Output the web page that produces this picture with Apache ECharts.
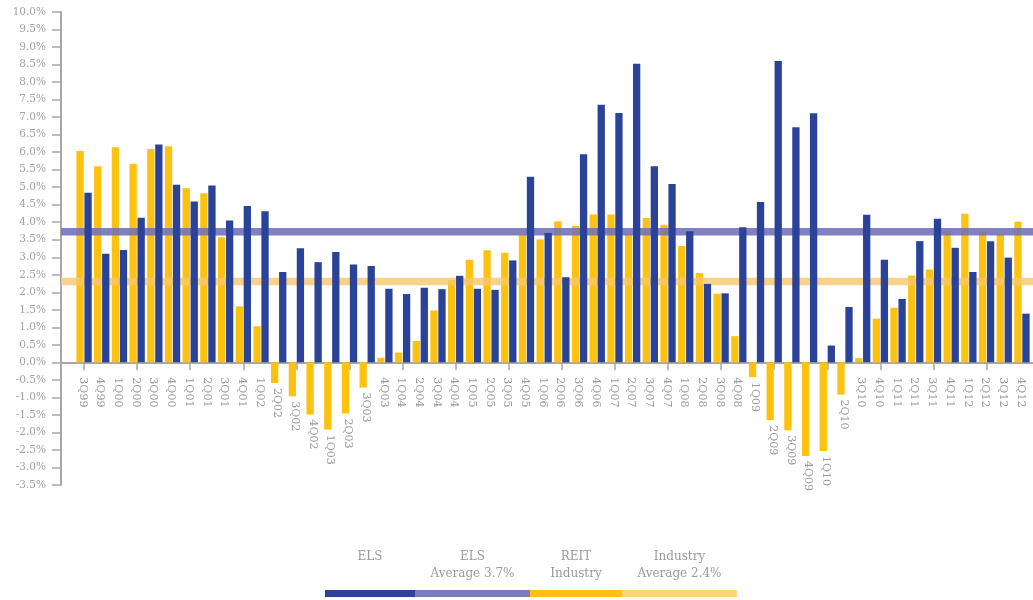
<!DOCTYPE html>
<html>
<head>
<meta charset="utf-8">
<script src="https://cdn.jsdelivr.net/npm/echarts@6/dist/echarts.min.js"></script>
<style>html,body{margin:0;padding:0;background:#fff}#c{width:1033px;height:600px}</style>
</head>
<body>
<div id="c"></div>
<script>
const categories = ['3Q99','4Q99','1Q00','2Q00','3Q00','4Q00','1Q01','2Q01','3Q01','4Q01','1Q02','2Q02','3Q02','4Q02','1Q03','2Q03','3Q03','4Q03','1Q04','2Q04','3Q04','4Q04','1Q05','2Q05','3Q05','4Q05','1Q06','2Q06','3Q06','4Q06','1Q07','2Q07','3Q07','4Q07','1Q08','2Q08','3Q08','4Q08','1Q09','2Q09','3Q09','4Q09','1Q10','2Q10','3Q10','4Q10','1Q11','2Q11','3Q11','4Q11','1Q12','2Q12','3Q12','4Q12'];
const reitIndustry = [6.03,5.6,6.14,5.67,6.09,6.17,4.97,4.83,3.57,1.6,1.03,-0.59,-0.97,-1.49,-1.92,-1.46,-0.72,0.13,0.28,0.61,1.48,2.36,2.93,3.2,3.13,3.64,3.51,4.02,3.89,4.22,4.22,3.68,4.12,3.93,3.32,2.55,1.96,0.75,-0.42,-1.65,-1.94,-2.67,-2.53,-0.92,0.12,1.25,1.56,2.48,2.65,3.74,4.24,3.73,3.67,4.01];
const els = [4.84,3.1,3.21,4.13,6.22,5.07,4.59,5.05,4.05,4.46,4.31,2.58,3.26,2.86,3.15,2.79,2.75,2.1,1.95,2.13,2.09,2.47,2.1,2.07,2.91,5.3,3.69,2.43,5.94,7.35,7.12,8.52,5.6,5.09,3.74,2.24,1.97,3.86,4.58,8.6,6.71,7.11,0.48,1.58,4.21,2.93,1.81,3.46,4.1,3.27,2.58,3.46,2.99,1.39];
const elsAverage = 3.73;
const industryAverage = 2.31;
const yMin = -3.5, yMax = 10, yStep = 0.5;
const legendNames = ['ELS', 'ELS Average 3.7%', 'REIT Industry', 'Industry Average 2.4%'];
const legendTexts = ['ELS', 'ELS\nAverage 3.7%', 'REIT\nIndustry', 'Industry\nAverage 2.4%'];

const C_BLUE = '#2a4399', C_PURPLE = '#6f6fb8', C_YELLOW = '#fdc20f', C_LYELLOW = '#f6c76e';
const FONT = '"DejaVu Serif", serif';
const GRAY = '#a3a3a3';
const TOP = 12, BOTTOM = 115;

const chart = echarts.init(document.getElementById('c'), null, {renderer: 'canvas'});

const legendLayout = [
  {left: 325, width: 90, color: C_BLUE},
  {left: 415, width: 115, color: '#7b7bbf'},
  {left: 530, width: 92, color: C_YELLOW},
  {left: 622, width: 115, color: '#fed57c'}
];

const option = {
  animation: false,
  backgroundColor: '#fff',
  grid: [
    {left: 61, right: 0, top: TOP, bottom: BOTTOM},
    {left: 75.2, right: 2.2, top: TOP, bottom: BOTTOM}
  ],
  xAxis: [
    {type: 'value', gridIndex: 0, min: 0, max: 1,
     axisLine: {show: true, onZero: true, lineStyle: {color: '#a8a8a8', width: 2}},
     axisTick: {show: false}, axisLabel: {show: false}, splitLine: {show: false}},
    {type: 'category', gridIndex: 1, data: categories,
     axisLine: {show: true, onZero: true, lineStyle: {color: '#a8a8a8', width: 2}},
     axisTick: {show: true, alignWithLabel: true, length: 8, lineStyle: {color: '#a8a8a8', width: 1.5}},
     axisLabel: {show: false}, splitLine: {show: false}}
  ],
  yAxis: [
    {type: 'value', gridIndex: 0, min: yMin, max: yMax, interval: yStep,
     axisLine: {show: true, lineStyle: {color: '#a8a8a8', width: 2}},
     axisTick: {show: true, length: 9, lineStyle: {color: '#a8a8a8', width: 1.5}},
     axisLabel: {color: GRAY, fontFamily: FONT, fontSize: 10.5, margin: 15,
                 formatter: v => v.toFixed(1) + '%'},
     splitLine: {show: false}},
    {type: 'value', gridIndex: 1, min: yMin, max: yMax, interval: yStep, show: false}
  ],
  legend: legendLayout.map((l, k) => ({
    data: [{name: legendNames[k], itemStyle: {color: l.color, opacity: 1}}],
    left: l.left, top: 590, itemWidth: l.width, itemHeight: 7, icon: 'rect',
    padding: 0, itemGap: 0, formatter: () => '', selectedMode: false
  })),
  graphic: legendLayout.map((l, k) => ({
    type: 'text', x: l.left + l.width / 2, y: 549,
    style: {text: legendTexts[k], fill: '#9a9a9a', font: '12px ' + FONT,
            align: 'center', verticalAlign: 'top', lineHeight: 16.5}
  })),
  series: [
    {name: 'REIT Industry', type: 'bar', xAxisIndex: 1, yAxisIndex: 1,
     data: reitIndustry, barWidth: 7.3, barGap: '10%', color: C_YELLOW,
     itemStyle: {color: C_YELLOW}, z: 2},
    {name: 'ELS', type: 'bar', xAxisIndex: 1, yAxisIndex: 1,
     data: els, barWidth: 7.3, barGap: '10%', color: C_BLUE,
     itemStyle: {color: C_BLUE}, z: 4},
    {name: 'ELS Average 3.7%', type: 'line', xAxisIndex: 0, yAxisIndex: 0,
     data: [[0, elsAverage], [1, elsAverage]], symbol: 'none', color: C_PURPLE,
     lineStyle: {color: C_PURPLE, width: 7.5, opacity: 0.88}, z: 3, silent: true},
    {name: 'Industry Average 2.4%', type: 'line', xAxisIndex: 0, yAxisIndex: 0,
     data: [[0, industryAverage], [1, industryAverage]], symbol: 'none', color: C_LYELLOW,
     lineStyle: {color: C_LYELLOW, width: 7.5, opacity: 0.8}, z: 3, silent: true},
    {name: 'labels', type: 'custom', xAxisIndex: 1, yAxisIndex: 1, silent: true, z: 6,
     data: categories.map((c, i) => [i, Math.min(0, reitIndustry[i], els[i])]),
     renderItem: (params, api) => {
       const i = api.value(0);
       const p0 = api.coord([i, 0]);
       const pl = api.coord([i, api.value(1)]);
       const y = Math.max(p0[1] + 15, pl[1] + 5);
       return {
         type: 'text', x: p0[0] - 1.5, y: y, rotation: -Math.PI / 2,
         style: {text: categories[i], x: 0, y: 0, align: 'left', verticalAlign: 'middle',
                 fill: '#9a9a9a', font: '11px ' + FONT}
       };
     }}
  ]
};
chart.setOption(option);
</script>
</body>
</html>
